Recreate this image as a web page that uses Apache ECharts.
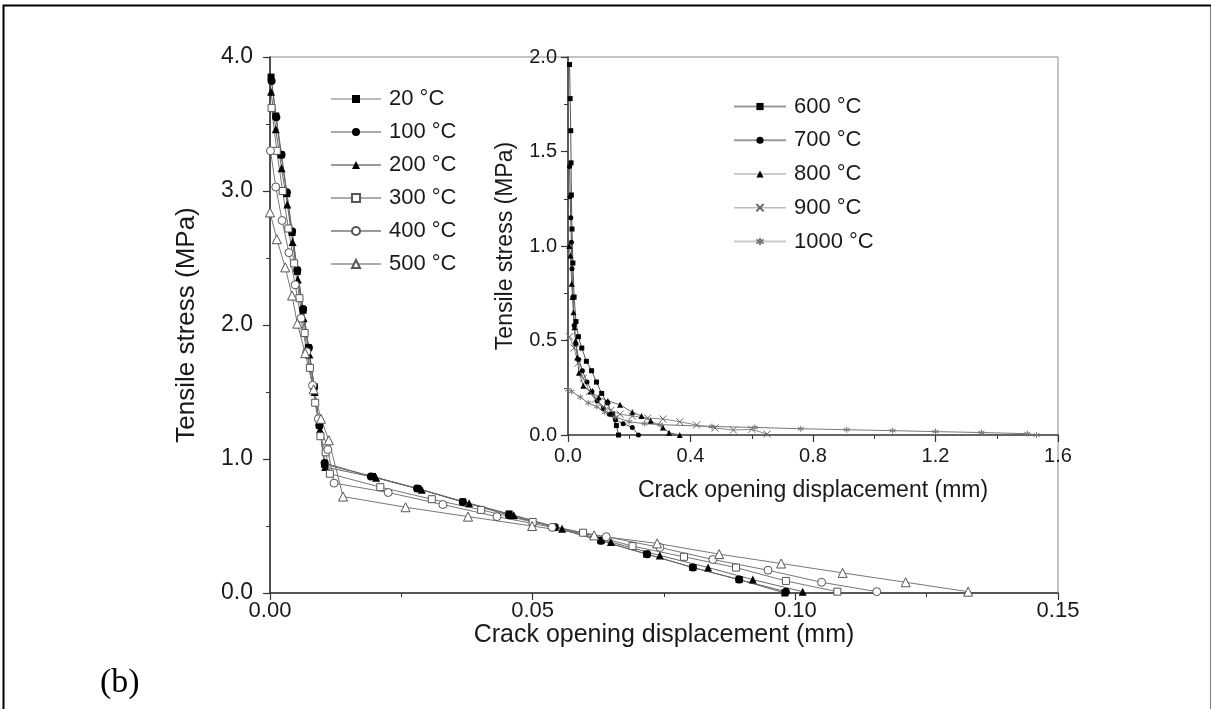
<!DOCTYPE html>
<html><head><meta charset="utf-8">
<script src="https://cdn.jsdelivr.net/npm/echarts@6/dist/echarts.min.js"></script>
<style>html,body{margin:0;padding:0;background:#fff}#c{width:1211px;height:709px}</style>
</head><body><div id="c"></div>
<script>
// ---- Main plot data (crack opening displacement mm, tensile stress MPa)
const x20  = [0.0002,0.0011,0.0021,0.0032,0.0042,0.0052,0.0063,0.0073,0.0084,0.0094,0.0104,0.0195,0.0281,0.0367,0.0455,0.0542,0.0630,0.0717,0.0805,0.0893,0.0980];
const y20  = [3.85,3.56,3.27,2.98,2.69,2.40,2.11,1.83,1.54,1.25,0.96,0.87,0.78,0.68,0.59,0.49,0.39,0.29,0.19,0.10,0.00];
const x100 = [0.0003,0.0012,0.0022,0.0032,0.0042,0.0052,0.0063,0.0074,0.0084,0.0094,0.0104,0.0192,0.0280,0.0367,0.0455,0.0542,0.0630,0.0718,0.0805,0.0893,0.0982];
const y100 = [3.82,3.55,3.27,2.99,2.70,2.41,2.12,1.83,1.54,1.25,0.97,0.87,0.78,0.68,0.58,0.49,0.39,0.29,0.19,0.10,0.01];
const x200 = [0.0002,0.0011,0.0022,0.0033,0.0043,0.0053,0.0064,0.0075,0.0085,0.0095,0.0105,0.0202,0.0289,0.0379,0.0464,0.0556,0.0649,0.0742,0.0834,0.0919,0.1014];
const y200 = [3.74,3.46,3.17,2.90,2.62,2.34,2.05,1.78,1.50,1.22,0.94,0.86,0.77,0.67,0.58,0.48,0.38,0.28,0.19,0.10,0.01];
const x300 = [0.0003,0.0013,0.0024,0.0035,0.0046,0.0056,0.0066,0.0076,0.0086,0.0096,0.0106,0.0114,0.0210,0.0308,0.0402,0.0500,0.0596,0.0690,0.0788,0.0887,0.0982,0.1080];
const y300 = [3.62,3.30,3.00,2.72,2.46,2.20,1.94,1.68,1.42,1.17,1.05,0.89,0.79,0.70,0.62,0.53,0.45,0.35,0.27,0.19,0.09,0.01];
const x400 = [0.0001,0.0011,0.0023,0.0036,0.0048,0.0059,0.0070,0.0081,0.0092,0.0110,0.0122,0.0225,0.0329,0.0432,0.0537,0.0640,0.0742,0.0843,0.0948,0.1050,0.1155];
const y400 = [3.30,3.03,2.78,2.54,2.30,2.05,1.80,1.55,1.30,1.07,0.82,0.75,0.66,0.57,0.49,0.42,0.34,0.25,0.17,0.08,0.01];
const x500 = [0.0000,0.0013,0.0029,0.0042,0.0052,0.0067,0.0083,0.0097,0.0112,0.0139,0.0258,0.0377,0.0499,0.0617,0.0737,0.0855,0.0973,0.1090,0.1210,0.1329];
const y500 = [2.84,2.64,2.43,2.22,2.01,1.79,1.52,1.30,1.14,0.72,0.64,0.57,0.50,0.43,0.37,0.29,0.22,0.15,0.08,0.01];

// ---- Inset data
const x600 = [0.005,0.007,0.009,0.010,0.011,0.013,0.016,0.020,0.026,0.034,0.045,0.060,0.077,0.093,0.110,0.128,0.145,0.158,0.165];
const y600 = [1.96,1.78,1.61,1.44,1.27,1.09,0.91,0.73,0.60,0.52,0.46,0.39,0.34,0.28,0.22,0.17,0.11,0.05,0.00];
const x700 = [0.005,0.007,0.009,0.011,0.013,0.016,0.020,0.026,0.035,0.047,0.062,0.078,0.095,0.115,0.135,0.155,0.180,0.210,0.230];
const y700 = [1.42,1.26,1.15,1.02,0.88,0.73,0.58,0.48,0.40,0.34,0.28,0.23,0.18,0.14,0.11,0.08,0.06,0.04,0.00];
const x800 = [0.004,0.008,0.012,0.015,0.018,0.021,0.025,0.030,0.036,0.050,0.074,0.100,0.130,0.170,0.210,0.240,0.270,0.310,0.330,0.365];
const y800 = [1.00,0.95,0.80,0.73,0.65,0.57,0.50,0.41,0.33,0.26,0.23,0.20,0.18,0.16,0.12,0.10,0.075,0.04,0.012,0.00];
const x900 = [0.005,0.020,0.033,0.050,0.070,0.090,0.115,0.140,0.170,0.210,0.260,0.310,0.365,0.420,0.480,0.540,0.600,0.650];
const y900 = [0.52,0.46,0.38,0.30,0.23,0.19,0.15,0.13,0.11,0.10,0.09,0.085,0.07,0.053,0.037,0.026,0.030,0.005];
const x1000 = [0.000,0.012,0.040,0.066,0.094,0.120,0.154,0.200,0.250,0.300,0.470,0.610,0.760,0.910,1.060,1.200,1.350,1.500,1.530];
const y1000 = [0.24,0.23,0.20,0.17,0.15,0.12,0.095,0.07,0.06,0.055,0.045,0.040,0.033,0.028,0.023,0.018,0.013,0.007,0.000];

const mainNames = ['20 °C','100 °C','200 °C','300 °C','400 °C','500 °C'];
const insetNames = ['600 °C','700 °C','800 °C','900 °C','1000 °C'];

function pairs(xs, ys){ return xs.map((v,i)=>[v, ys[i]]); }

const FONT = 'Liberation Sans, Arial, sans-serif';
const TXT = '#1a1a1a';
const filled = {color:'#000', borderColor:'#000', borderWidth:0};
const open = {color:'#fff', borderColor:'#555', borderWidth:1};

function mk(name, xs, ys, sym, size, item, lc, lw, axisIdx){
  return {
    name, type:'line', data:pairs(xs,ys), xAxisIndex:axisIdx, yAxisIndex:axisIdx,
    symbol:sym, symbolSize:size, showAllSymbol:true, clip:false,
    lineStyle:{color:lc, width:lw}, itemStyle:item, animation:false, z:3
  };
}

const XSYM = 'path://M0,0L10,10M10,0L0,10';
const STAR = 'path://M5,0L5,10M0.7,2.5L9.3,7.5M0.7,7.5L9.3,2.5';

const series = [
  mk(mainNames[0], x20, y20, 'rect', 7, filled, '#666', 1, 0),
  mk(mainNames[1], x100, y100, 'circle', 8, filled, '#666', 1, 0),
  mk(mainNames[2], x200, y200, 'triangle', 8, filled, '#666', 1, 0),
  mk(mainNames[3], x300, y300, 'rect', 7, open, '#777', 1, 0),
  mk(mainNames[4], x400, y400, 'circle', 8, open, '#777', 1, 0),
  mk(mainNames[5], x500, y500, 'triangle', 9, open, '#777', 1, 0),
  mk(insetNames[0], x600, y600, 'rect', 5, filled, '#555', 1, 1),
  mk(insetNames[1], x700, y700, 'circle', 5, filled, '#555', 1, 1),
  mk(insetNames[2], x800, y800, 'triangle', 6, filled, '#666', 1, 1),
  mk(insetNames[3], x900, y900, XSYM, 7, {color:'none', borderColor:'#666', borderWidth:1}, '#888', 1, 1),
  mk(insetNames[4], x1000, y1000, STAR, 6, {color:'none', borderColor:'#777', borderWidth:1}, '#777', 1, 1)
];

function axisCommon(nameSize){
  return {
    axisLine:{show:true, onZero:false, lineStyle:{color:'#333', width:1.6}},
    axisTick:{show:true, inside:false, length:7, lineStyle:{color:'#333', width:1.2}},
    minorTick:{show:true, splitNumber:2, length:4, lineStyle:{color:'#333', width:1}},
    splitLine:{show:false},
    nameLocation:'middle',
    nameMoveOverlap:false,
    nameTextStyle:{fontFamily:FONT, fontSize:nameSize, color:TXT}
  };
}

const mainLegendLines = ['#bbb','#aaa','#999','#aaa','#999','#aaa'];
const insetLegendLines = ['#999','#999','#ccc','#bbb','#ccc'];
const insetLegendWidths = [2,2,2,1.5,2];

const option = {
  backgroundColor:'#fff',
  animation:false,
  grid:[
    {left:270, top:57, width:788, height:536, show:true, borderColor:'#888', borderWidth:1, backgroundColor:'transparent'},
    {left:568, top:57, width:490, height:378, show:false}
  ],
  xAxis:[
    Object.assign(axisCommon(25), {type:'value', gridIndex:0, min:0, max:0.15, interval:0.05,
      name:'Crack opening displacement (mm)', nameGap:30,
      axisLabel:{fontFamily:FONT, fontSize:22, color:TXT, margin:7, formatter:v=>v.toFixed(2)}}),
    Object.assign(axisCommon(23), {type:'value', gridIndex:1, min:0, max:1.6, interval:0.4,
      name:'Crack opening displacement (mm)', nameGap:44,
      axisLabel:{fontFamily:FONT, fontSize:20, color:TXT, margin:11, formatter:v=>v.toFixed(1)}})
  ],
  yAxis:[
    Object.assign(axisCommon(26), {type:'value', gridIndex:0, min:0, max:4, interval:1,
      name:'Tensile stress (MPa)', nameGap:70, nameRotate:90,
      axisLabel:{fontFamily:FONT, fontSize:23, color:TXT, margin:17, formatter:v=>v.toFixed(1)}}),
    Object.assign(axisCommon(23), {type:'value', gridIndex:1, min:0, max:2, interval:0.5,
      name:'Tensile stress (MPa)', nameGap:51, nameRotate:90,
      axisLabel:{fontFamily:FONT, fontSize:20, color:TXT, margin:11, formatter:v=>v.toFixed(1)}})
  ],
  legend:[
    {data:mainNames.map((n,i)=>({name:n, lineStyle:{color:mainLegendLines[i], width:2}})),
      orient:'vertical', left:330, top:88, padding:0, itemWidth:50, itemHeight:10, itemGap:11,
      textStyle:{fontFamily:FONT, fontSize:22, color:TXT, padding:[0,0,0,3]}, selectedMode:false},
    {data:insetNames.map((n,i)=>({name:n, lineStyle:{color:insetLegendLines[i], width:insetLegendWidths[i]}})),
      orient:'vertical', left:733, top:95.5, padding:0, itemWidth:52, itemHeight:9, itemGap:11.75,
      textStyle:{fontFamily:FONT, fontSize:22, color:TXT, padding:[0,0,0,3]}, selectedMode:false}
  ],
  graphic:[
    {type:'rect', left:1, top:3, shape:{width:1208, height:720}, style:{fill:'none', stroke:'#000', lineWidth:2}, silent:true, z:-1},
    {type:'text', left:100, top:666, style:{text:'(b)', font:'34px "Liberation Serif", "Times New Roman", serif', fill:'#000'}}
  ],
  series
};

const chart = echarts.init(document.getElementById('c'), null, {renderer:'canvas'});
chart.setOption(option);
</script>
</body></html>
